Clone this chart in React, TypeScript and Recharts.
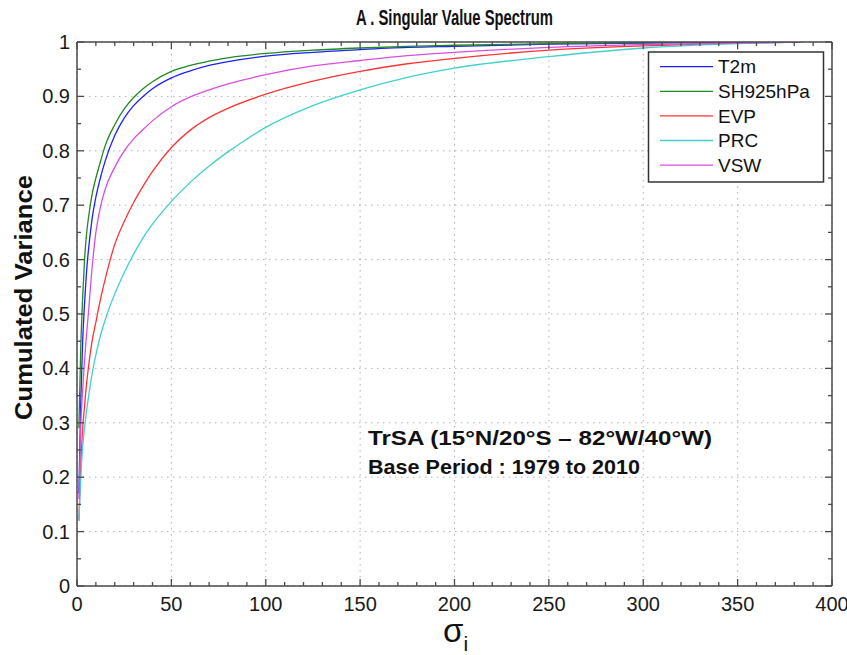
import React from 'react';
import { LineChart, Line, XAxis, YAxis, CartesianGrid } from 'recharts';

const modes = [1, 2, 3, 4, 5, 6, 8, 10, 12, 15, 20, 25, 30, 35, 40, 50, 60, 70, 80, 100, 125, 150, 175, 200, 250, 300, 350, 384];
const t2m = [0.17, 0.34, 0.45, 0.52, 0.575, 0.615, 0.675, 0.715, 0.745, 0.782, 0.828, 0.86, 0.883, 0.9, 0.914, 0.934, 0.947, 0.957, 0.964, 0.974, 0.981, 0.986, 0.99, 0.992, 0.996, 0.998, 0.9995, 1];
const sh925 = [0.29, 0.44, 0.53, 0.6, 0.645, 0.675, 0.72, 0.75, 0.775, 0.81, 0.848, 0.877, 0.898, 0.914, 0.927, 0.946, 0.957, 0.965, 0.971, 0.979, 0.985, 0.989, 0.992, 0.994, 0.997, 0.999, 1, 1];
const evp = [0.12, 0.22, 0.29, 0.33, 0.37, 0.4, 0.45, 0.485, 0.52, 0.565, 0.628, 0.67, 0.705, 0.735, 0.762, 0.806, 0.838, 0.861, 0.878, 0.904, 0.928, 0.946, 0.96, 0.97, 0.985, 0.993, 0.998, 1];
const prc = [0.12, 0.2, 0.255, 0.29, 0.32, 0.345, 0.39, 0.425, 0.455, 0.49, 0.537, 0.576, 0.61, 0.64, 0.665, 0.707, 0.742, 0.772, 0.798, 0.843, 0.883, 0.912, 0.935, 0.952, 0.973, 0.989, 0.997, 1];
const vsw = [0.16, 0.295, 0.36, 0.415, 0.46, 0.5, 0.585, 0.65, 0.69, 0.73, 0.77, 0.8, 0.822, 0.839, 0.855, 0.881, 0.899, 0.912, 0.923, 0.94, 0.956, 0.966, 0.975, 0.981, 0.99, 0.995, 0.998, 1];

const seriesNames = ['T2m', 'SH925hPa', 'EVP', 'PRC', 'VSW'];
const seriesValues = [t2m, sh925, evp, prc, vsw];
const seriesColors = ['#1f1fff', '#1f8a1f', '#ff3333', '#40d0d0', '#d84fe0'];

const xMajorTicks = [0, 50, 100, 150, 200, 250, 300, 350, 400];
const xAllTicks = [0, 10, 20, 30, 40, 50, 60, 70, 80, 90, 100, 110, 120, 130, 140, 150, 160, 170, 180, 190, 200, 210, 220, 230, 240, 250, 260, 270, 280, 290, 300, 310, 320, 330, 340, 350, 360, 370, 380, 390, 400];
const yMajorTicks = [0, 0.1, 0.2, 0.3, 0.4, 0.5, 0.6, 0.7, 0.8, 0.9, 1];
const yTickLabels = ['0', '0.1', '0.2', '0.3', '0.4', '0.5', '0.6', '0.7', '0.8', '0.9', '1'];
const yAllTicks = [0, 0.05, 0.1, 0.15, 0.2, 0.25, 0.3, 0.35, 0.4, 0.45, 0.5, 0.55, 0.6, 0.65, 0.7, 0.75, 0.8, 0.85, 0.9, 0.95, 1];

const title = 'A . Singular Value Spectrum';
const yTitle = 'Cumulated Variance';
const noteLines = ['TrSA (15°N/20°S – 82°W/40°W)', 'Base Period : 1979 to 2010'];

const data = modes.map((m, i) => {
  const row: Record<string, number> = { mode: m };
  seriesNames.forEach((n, k) => {
    row[n] = seriesValues[k][i];
  });
  return row;
});

const FONT = '"Liberation Sans", Arial, Helvetica, sans-serif';
const AXIS = '#4a4a4a';
const MAJOR_LEN = 7;
const MINOR_LEN = 4;
const LABEL_SIZE = 20;

const isXMajor = (v: number) => xMajorTicks.includes(v);
const yMajorIndex = (v: number) => yMajorTicks.findIndex((t) => Math.abs(t - v) < 1e-9);

// inward tick marks (plus labels on the bottom / left side) at the axis position handed over by recharts
const makeTick = (side: 'bottom' | 'top' | 'left' | 'right') => (props: any) => {
  const { x, y, payload } = props;
  const v = payload.value as number;
  const horiz = side === 'bottom' || side === 'top';
  const major = horiz ? isXMajor(v) : yMajorIndex(v) >= 0;
  const len = major ? MAJOR_LEN : MINOR_LEN;
  let x2 = x;
  let y2 = y;
  if (side === 'bottom') y2 = y - len;
  if (side === 'top') y2 = y + len;
  if (side === 'left') x2 = x + len;
  if (side === 'right') x2 = x - len;
  return (
    <g>
      <line x1={x} y1={y} x2={x2} y2={y2} stroke={AXIS} strokeWidth={1.3} />
      {side === 'bottom' && major && (
        <text x={x} y={y + 11} dy="0.71em" textAnchor="middle" fontSize={LABEL_SIZE} fill="#1a1a1a" fontFamily={FONT}>
          {String(v)}
        </text>
      )}
      {side === 'left' && major && (
        <text x={x - 7} y={y} dy="0.35em" textAnchor="end" fontSize={LABEL_SIZE} fill="#1a1a1a" fontFamily={FONT}>
          {yTickLabels[yMajorIndex(v)]}
        </text>
      )}
    </g>
  );
};

const verticalGrid = ({ xAxis, offset }: any) =>
  xMajorTicks.map((t) =>
    xAxis && typeof xAxis.scale === 'function' ? xAxis.scale(t) : offset.left + (t / 400) * offset.width
  );
const horizontalGrid = ({ yAxis, offset }: any) =>
  yMajorTicks.map((t) =>
    yAxis && typeof yAxis.scale === 'function' ? yAxis.scale(t) : offset.top + (1 - t) * offset.height
  );

export default function App() {
  return (
    <div style={{ position: 'absolute', left: 0, top: 0, width: 847, height: 655, background: '#fff' }}>
      <LineChart width={847} height={655} data={data} margin={{ top: 0, right: 0, bottom: 0, left: 0 }}>
        <CartesianGrid
          stroke="#b0b0b0"
          strokeDasharray="1.5 4.5"
          verticalCoordinatesGenerator={verticalGrid}
          horizontalCoordinatesGenerator={horizontalGrid}
        />
        <XAxis
          dataKey="mode"
          type="number"
          domain={[0, 400]}
          ticks={xAllTicks}
          interval={0}
          height={69}
          tickSize={0}
          tickMargin={0}
          tickLine={false}
          axisLine={{ stroke: AXIS, strokeWidth: 1.5 }}
          tick={makeTick('bottom')}
          allowDataOverflow
        />
        <XAxis
          xAxisId="top"
          orientation="top"
          dataKey="mode"
          type="number"
          domain={[0, 400]}
          ticks={xAllTicks}
          interval={0}
          height={42}
          tickSize={0}
          tickMargin={0}
          tickLine={false}
          axisLine={{ stroke: AXIS, strokeWidth: 1.5 }}
          tick={makeTick('top')}
          allowDataOverflow
        />
        <YAxis
          type="number"
          domain={[0, 1]}
          ticks={yAllTicks}
          interval={0}
          width={77}
          tickSize={0}
          tickMargin={0}
          tickLine={false}
          axisLine={{ stroke: AXIS, strokeWidth: 1.5 }}
          tick={makeTick('left')}
          allowDataOverflow
        />
        <YAxis
          yAxisId="right"
          orientation="right"
          type="number"
          domain={[0, 1]}
          ticks={yAllTicks}
          interval={0}
          width={15}
          tickSize={0}
          tickMargin={0}
          tickLine={false}
          axisLine={{ stroke: AXIS, strokeWidth: 1.5 }}
          tick={makeTick('right')}
          allowDataOverflow
        />
        {/* invisible series bound to the top/right frame axes so that recharts builds their scales */}
        <Line
          xAxisId="top"
          yAxisId="right"
          dataKey={seriesNames[0]}
          stroke="none"
          dot={false}
          activeDot={false}
          legendType="none"
          isAnimationActive={false}
        />
        {seriesNames.map((n, k) => (
          <Line
            key={n}
            type="monotone"
            dataKey={n}
            stroke={seriesColors[k]}
            strokeWidth={1.3}
            dot={false}
            isAnimationActive={false}
          />
        ))}
      </LineChart>
      <svg
        width={847}
        height={655}
        style={{ position: 'absolute', left: 0, top: 0, pointerEvents: 'none' }}
        fontFamily={FONT}
      >
        <text x={454.5} y={25} textAnchor="middle" fontSize={22} fontWeight="bold" fill="#111" textLength={197} lengthAdjust="spacingAndGlyphs">
          {title}
        </text>
        <text
          transform="translate(32,297.5) rotate(-90)"
          textAnchor="middle"
          fontSize={23}
          fontWeight="bold"
          fill="#111"
          textLength={245}
          lengthAdjust="spacingAndGlyphs"
        >
          {yTitle}
        </text>
        <text x={443} y={642} fontSize={33} fill="#111">
          σ<tspan fontSize={21} dy={9}>i</tspan>
        </text>
        {noteLines.map((t, i) => (
          <text key={t} x={368} y={445 + i * 29} fontSize={21} fontWeight="bold" fill="#111" textLength={i === 0 ? 344 : 272} lengthAdjust="spacingAndGlyphs">
            {t}
          </text>
        ))}
        <rect x={648.5} y={52} width={175} height={130} fill="#fff" stroke="#333" strokeWidth={1.5} />
        {seriesNames.map((n, k) => (
          <g key={n}>
            <line x1={660} x2={713} y1={66.7 + k * 24.6} y2={66.7 + k * 24.6} stroke={seriesColors[k]} strokeWidth={1.3} />
            <text x={718} y={66.7 + k * 24.6} dy="0.35em" fontSize={19} fill="#111">
              {n}
            </text>
          </g>
        ))}
      </svg>
    </div>
  );
}
